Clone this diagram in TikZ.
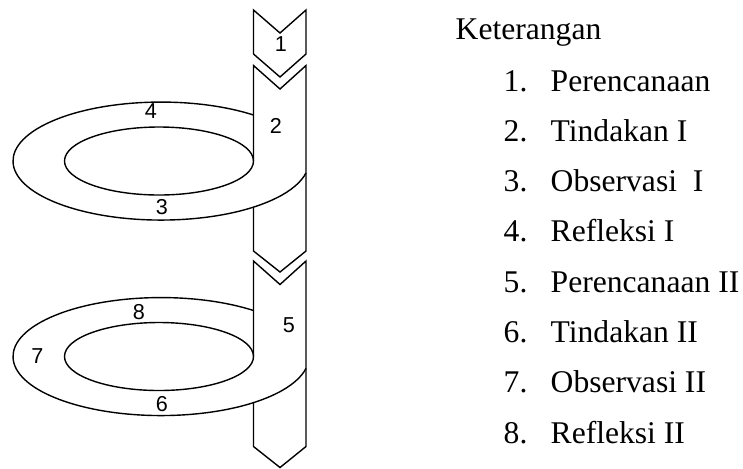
\documentclass[tikz,border=0pt]{standalone}
\usepackage{fontspec}
\setmainfont{Liberation Serif}
\newfontfamily\angkafont{Liberation Sans}
\usetikzlibrary{positioning}

\begin{document}
\begin{tikzpicture}[x=0.5pt, y=-0.5pt, line width=0.7pt,
        angka/.style={font=\angkafont\fontsize{10.8}{12}\selectfont, inner sep=0pt},
        teks/.style={font=\fontsize{15.8}{18}\selectfont, inner sep=0pt, anchor=base west}]
        \useasboundingbox (0,0) rectangle (743,468);

        % Panah perencanaan awal
        \draw (253.5,10) -- (280,33) -- (306,10) -- (306,54) -- (280,77) -- (253.5,54) -- cycle;

        % Dua siklus: batang tindakan dan cincin observasi/refleksi
        \foreach \dy in {0,195.5} {
            \begin{scope}[shift={(0,\dy)}]
                \draw (253.5,161) -- (253.5,65.5) -- (280,89) -- (306,65.5) -- (306,251)
                      -- (280,272) -- (253.5,251) -- (253.5,207);
                \draw (159,161) ellipse [x radius=94.5, y radius=34];
                \draw (253.5,115) arc[start angle=-51.32, end angle=-348.44, x radius=148, y radius=59];
            \end{scope}
        }

        % Nomor pada gambar
        \node[angka] (a1) at (281,44) {1};
        \node[angka] (a2) at (276,126) {2};
        \node[angka] (a3) at (162,207) {3};
        \node[angka] (a4) at (151,111) {4};
        \node[angka] (a5) at (289,325) {5};
        \node[angka] (a6) at (162,404) {6};
        \node[angka] (a7) at (37.5,356) {7};
        \node[angka] (a8) at (139,312) {8};

        % Keterangan
        \node[teks] (ket) at (455,39) {Keterangan};
        \foreach \i/\isi in {1/Perencanaan, 2/Tindakan I, 3/Observasi\ \ I, 4/Refleksi I,
                5/Perencanaan II, 6/Tindakan II, 7/Observasi II, 8/Refleksi II} {
            \node[teks] (no\i) at (503,{91+50.3*(\i-1)}) {\i.};
            \node[teks] (isi\i) at (550,{91+50.3*(\i-1)}) {\isi};
        }
    \end{tikzpicture}
\end{document}
